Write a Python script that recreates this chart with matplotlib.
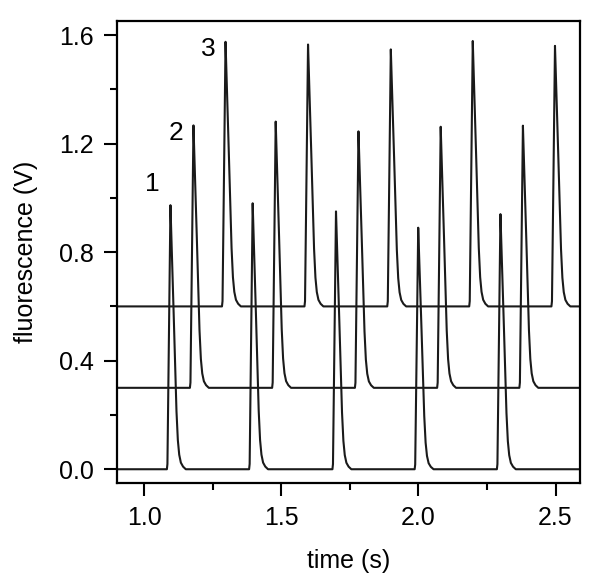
import matplotlib
matplotlib.use("Agg")
import matplotlib.pyplot as plt
from matplotlib.ticker import MultipleLocator

# ── DATA ──────────────────────────────────────────────────

baselines = [0.0, 0.30, 0.60]
peak_times = [
    [1.095, 1.395, 1.699, 1.999, 2.299],
    [1.179, 1.479, 1.781, 2.081, 2.381],
    [1.296, 1.597, 1.899, 2.198, 2.498],
]
peak_tops = [
    [0.973, 0.980, 0.950, 0.890, 0.940],
    [1.267, 1.281, 1.245, 1.262, 1.266],
    [1.575, 1.565, 1.547, 1.578, 1.560],
]
# pulse outline relative to its top: time offset (s), fraction of amplitude
pulse_dt = [-0.013, -0.011, -0.005, 0.0, 0.004, 0.008, 0.012, 0.017, 0.022, 0.027, 0.032, 0.038, 0.046, 0.056]
pulse_frac = [0.0, 0.02, 0.55, 1.0, 0.86, 0.72, 0.58, 0.40, 0.22, 0.11, 0.055, 0.025, 0.01, 0.0]
trace_labels = ["1", "2", "3"]
label_pos = [(1.029, 1.05), (1.117, 1.24), (1.234, 1.55)]

x_start, x_end = 0.9, 2.59

# ── BUILD TRACES ──────────────────────────────────────────

traces = []
for base, times, tops in zip(baselines, peak_times, peak_tops):
    xs, ys = [x_start], [base]
    for t, top in zip(times, tops):
        for dt, f in zip(pulse_dt, pulse_frac):
            xs.append(t + dt)
            ys.append(base + f * (top - base))
    xs.append(x_end)
    ys.append(base)
    traces.append((xs, ys))

# ── PLOT ──────────────────────────────────────────────────

plt.rcParams["font.family"] = ["Liberation Sans", "DejaVu Sans"]

fig = plt.figure(figsize=(6.0, 5.81), dpi=100)
ax = fig.add_axes([0.195, 0.169, 0.772, 0.795])

for xs, ys in traces:
    ax.plot(xs, ys, color="#1a1a1a", lw=1.5)

for lab, (lx, ly) in zip(trace_labels, label_pos):
    ax.text(lx, ly, lab, fontsize=19, ha="center", va="center")

ax.set_xlim(0.9, 2.59)
ax.set_ylim(-0.05, 1.652)
ax.xaxis.set_major_locator(MultipleLocator(0.5))
ax.xaxis.set_minor_locator(MultipleLocator(0.25))
ax.yaxis.set_major_locator(MultipleLocator(0.4))
ax.yaxis.set_minor_locator(MultipleLocator(0.2))
ax.xaxis.set_major_formatter(lambda v, p: f"{v:.1f}")
ax.yaxis.set_major_formatter(lambda v, p: f"{v:.1f}")

ax.tick_params(which="major", direction="out", length=9.5, width=1.5, labelsize=18, pad=7)
ax.tick_params(which="minor", direction="out", length=5, width=1.5)
ax.tick_params(top=False, right=False)
for sp in ax.spines.values():
    sp.set_linewidth(1.6)

ax.set_xlabel("time (s)", fontsize=18, labelpad=14)
ax.set_ylabel("fluorescence (V)", fontsize=18, labelpad=15)

fig.savefig("out.png", dpi=100)
